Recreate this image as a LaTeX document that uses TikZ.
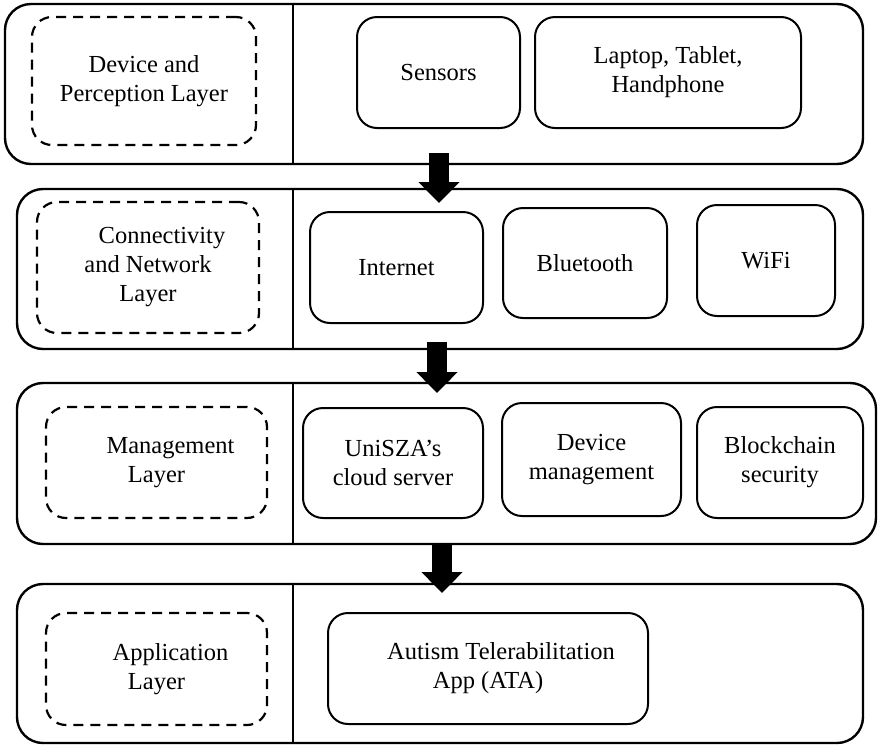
\documentclass[tikz,border=0pt]{standalone}
\usepackage{fontspec}
\setmainfont{Liberation Serif}
\usetikzlibrary{arrows.meta}

\begin{document}
\begin{tikzpicture}[x=1pt, y=-1pt,
  every node/.style={inner sep=0pt, align=center, font=\fontsize{24.5}{29}\selectfont},
  layer/.style={draw, line width=2.4pt, rounded corners=26pt},
  tag/.style={draw, dash pattern=on 10pt off 7pt, line width=2.2pt, rounded corners=20pt},
  item/.style={draw, line width=2pt, rounded corners=20pt},
  bigarrow/.style={line width=20pt, -{Triangle[width=40pt, length=21pt]}}]
  \useasboundingbox (0,0) rectangle (878,745);
  % four layers with a divider
  \foreach \n/\cx/\cy/\w/\h in {L1/434/84/858/160, L2/440/269/846/160,
                                L3/446.5/463.5/859/161, L4/440/663.5/846/159}
    { \node[layer, minimum width=\w pt, minimum height=\h pt] (\n) at (\cx,\cy) {}; }
  \coordinate (div) at (293,0);
  \foreach \n in {L1, L2, L3, L4} { \draw[line width=1.1pt] (\n.north -| div) -- (\n.south -| div); }

  % layer names
  \node[tag, minimum width=224pt, minimum height=128pt] (dev) at (144,81) {Device and\\Perception Layer};
  \node[tag, minimum width=222pt, minimum height=131pt] (con) at (148,267.5) {\hspace*{28pt}Connectivity\\and Network\\Layer};
  \node[tag, minimum width=221pt, minimum height=111pt] (man) at (156.5,462.5) {\hspace*{28pt}Management\\Layer};
  \node[tag, minimum width=221pt, minimum height=112pt] (app) at (156.5,669) {\hspace*{28pt}Application\\Layer};

  % components
  \node[item, minimum width=163pt, minimum height=111pt] (sens) at (438.5,72.5) {Sensors};
  \node[item, minimum width=266pt, minimum height=111pt] (lapt) at (668,72.5) {Laptop, Tablet,\\Handphone};
  \node[item, minimum width=173pt, minimum height=111pt] (inet) at (396.5,267.5) {Internet};
  \node[item, minimum width=164pt, minimum height=110pt] (blue) at (585,263) {Bluetooth};
  \node[item, minimum width=138pt, minimum height=111pt] (wifi) at (766,260.5) {WiFi};
  \node[item, minimum width=180pt, minimum height=110pt] (clou) at (393,463) {UniSZA's\\cloud server};
  \node[item, minimum width=179pt, minimum height=113pt] (dman) at (591.5,459.5) {Device\\management};
  \node[item, minimum width=166pt, minimum height=111pt] (bloc) at (780,462.5) {Blockchain\\security};
  \node[item, minimum width=320pt, minimum height=111pt] (ata) at (488,668.5) {\hspace*{26pt}Autism Telerabilitation\\App (ATA)};

  % flow between layers
  \coordinate (a1s) at (439,153); \coordinate (a1e) at (439,203);
  \coordinate (a2s) at (437,342); \coordinate (a2e) at (437,393);
  \coordinate (a3s) at (442,543); \coordinate (a3e) at (442,593);
  \draw[bigarrow] (a1s) -- (a1e);
  \draw[bigarrow] (a2s) -- (a2e);
  \draw[bigarrow] (a3s) -- (a3e);
\end{tikzpicture}
\end{document}
